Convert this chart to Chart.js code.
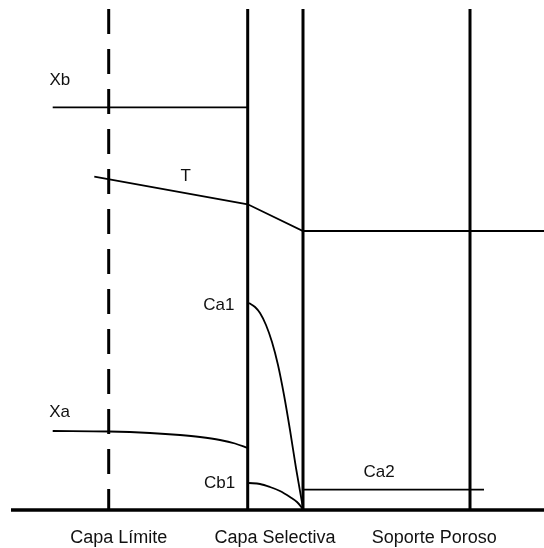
<!DOCTYPE html>
<html>
<head>
<meta charset="utf-8">
<script src="https://cdn.jsdelivr.net/npm/chart.js@4/dist/chart.umd.min.js"></script>
<style>
  html, body { margin: 0; padding: 0; background: #fff; }
  #wrap { width: 544px; height: 548px; }
</style>
</head>
<body>
<div id="wrap"><canvas id="c" width="544" height="548"></canvas></div>
<script>
// Position along the membrane (x) and profile level above the base line (y).
const layerBoundaries = [247.7, 303, 470];       // solid layer walls
const boundaryLayerEdge = 108.7;                 // dashed edge of the boundary layer
const wallTop = 501;
const baseLine = [[11, 0], [544, 0]];

// Profiles
const xbProfile = [[52.7, 402.7], [247.7, 402.7]];
const tProfile = [[94.3, 333.3], [247.7, 305.7], [303, 279], [544, 279]];
const xaProfile = [[52.7, 79], [109, 78.5], [150, 77], [180, 75], [200, 73], [220, 70], [235, 66.5], [247.7, 62]];
const ca1Profile = [[249, 207], [255, 203], [260, 197], [266, 185], [272, 168], [278, 145], [284, 115], [290, 80], [296, 42], [303, 2]];
const cb1Profile = [[249, 27], [260, 26], [270, 23], [280, 19], [290, 13], [297, 8], [303, 1]];
const ca2Profile = [[303, 20.3], [484, 20.3]];

// Text labels: [text, x, baseline y]
const profileLabels = [
  ['Xb', 59.8, 425], ['T', 185.7, 329], ['Ca1', 218.8, 200.5],
  ['Xa', 59.6, 92.7], ['Cb1', 219.5, 22], ['Ca2', 379, 33.5]
];
const layerNames = [
  ['Capa Límite', 118.7, -33], ['Capa Selectiva', 275, -33], ['Soporte Poroso', 434.2, -33]
];

const toPts = arr => arr.map(([x, y]) => ({ x, y }));

function line(points, width, extra) {
  return Object.assign({
    data: toPts(points),
    borderColor: '#000',
    borderWidth: width,
    pointRadius: 0,
    fill: false,
    tension: 0,
    clip: false
  }, extra || {});
}

const datasets = [];
datasets.push(line(baseLine, 3.5));
datasets.push(line([[boundaryLayerEdge, wallTop], [boundaryLayerEdge, 0]], 3, { borderDash: [25, 15], borderCapStyle: 'butt' }));
layerBoundaries.forEach(x => datasets.push(line([[x, wallTop], [x, 0]], 3)));
datasets.push(line(xbProfile, 1.8));
datasets.push(line(tProfile, 1.8));
datasets.push(line(xaProfile, 1.8, { cubicInterpolationMode: 'monotone' }));
datasets.push(line(ca1Profile, 1.8, { cubicInterpolationMode: 'monotone' }));
datasets.push(line(cb1Profile, 1.8, { cubicInterpolationMode: 'monotone' }));
datasets.push(line(ca2Profile, 1.8));

const FONT = '"Liberation Sans", Arial, sans-serif';

const textPlugin = {
  id: 'diagramText',
  afterDatasetsDraw(chart) {
    const { ctx, scales: { x, y } } = chart;
    ctx.save();
    ctx.fillStyle = '#111';
    ctx.textAlign = 'center';
    ctx.textBaseline = 'alphabetic';
    ctx.font = '17px ' + FONT;
    profileLabels.forEach(([t, vx, vy]) => {
      ctx.fillText(t, x.getPixelForValue(vx), y.getPixelForValue(vy));
    });
    ctx.font = '18px ' + FONT;
    layerNames.forEach(([t, vx, vy]) => {
      ctx.fillText(t, x.getPixelForValue(vx), y.getPixelForValue(vy));
    });
    ctx.restore();
  }
};

new Chart(document.getElementById('c'), {
  type: 'line',
  data: { datasets },
  options: {
    responsive: false,
    animation: false,
    events: [],
    layout: { padding: 0 },
    plugins: { legend: { display: false }, tooltip: { enabled: false } },
    scales: {
      x: { type: 'linear', min: 0, max: 544, display: false },
      y: { type: 'linear', min: -38, max: 510, display: false }
    }
  },
  plugins: [textPlugin]
});
</script>
</body>
</html>
